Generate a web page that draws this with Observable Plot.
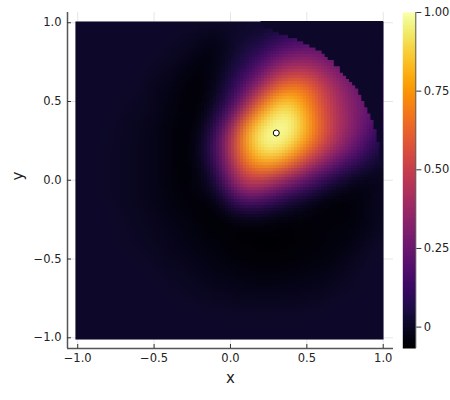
<!DOCTYPE html>
<html><head><meta charset="utf-8">
<script src="https://cdn.jsdelivr.net/npm/d3@7"></script>
<script src="https://cdn.jsdelivr.net/npm/@observablehq/plot@0.6"></script>
<style>
html,body{margin:0;padding:0;background:#fff}
#c{position:relative;width:450px;height:400px;font-family:"DejaVu Sans"}
#c svg{position:absolute;top:0;background:transparent}
</style></head><body><div id="c"></div>
<script>
const xTicks=[-1,-0.5,0,0.5,1];
const yTicks=[-1,-0.5,0,0.5,1];
const barTicks=[0,0.25,0.5,0.75,1];
const colorDomain=[-0.068,1];
const gridX=[-1,-.9,-.8,-.7,-.6,-.5,-.4,-.3,-.2,-.1,0,.1,.2,.3,.4,.5,.6,.7,.8,.9,1];
const gridY=[1,.9,.8,.7,.6,.5,.4,.3,.2,.1,0,-.1,-.2,-.3,-.4,-.5,-.6,-.7,-.8,-.9,-1];
// field values, in hundredths, one row per gridY entry
const field=[
[1,1,1,1,1,1,1,1,1,1,1,1,1,1,1,1,1,1,1,1,1],
[1,1,1,1,1,1,1,0,-1,-2,0,2,3,8,12,15,14,12,8,5,2],
[1,1,1,1,1,1,0,-1,-3,-4,1,5,10,21,26,29,26,20,15,10,5],
[1,1,1,1,1,0,-1,-3,-5,-3,3,10,22,36,44,45,37,29,20,14,8],
[1,1,1,1,.5,-1,-2,-4.5,-6,-2,7,20,36,58,68,64,50,37,27,20,14],
[1,1,1,.5,0,-1,-3,-5,-6,0,12,33,61,84,87,73,55,41,31,22,15],
[1,1,1,0,-.5,-1.5,-3.5,-5.5,-5,5,24,58,85,98,97,79,58,44,32,23,16],
[1,1,.5,0,-1,-2,-4,-6,-3,12,40,79,98,100,98,80,60,43,31,19,8],
[1,1,.5,-.2,-1,-2,-4,-6,-2,14,46,76,95,98,87,68,50,36,24,12,0],
[1,1,.5,-.2,-1,-2,-4,-6,-3,11,38,66,79,76,62,45,32,20,10,3,0],
[1,1,.5,-.2,-1,-2,-4,-5.5,-4,4,30,50,50,40,30,20,10,3,-2,-3,0],
[1,1,.5,-.2,-1,-2,-3.5,-5,-5,-2,12,25,22,15,7,2,-2,-5,-5,-3,.5],
[1,1,1,0,-.5,-1.5,-3,-4,-5.5,-6,-1,2,2,-1,-3,-4.5,-5.5,-5.5,-4.5,-3,.5],
[1,1,1,.5,-.3,-1,-2,-3,-4.5,-6,-6,-6.5,-6.5,-6.5,-6,-5.5,-5,-4.5,-4,-2.5,.5],
[1,1,1,.5,0,-.5,-1.5,-2.5,-3.5,-4.5,-5.5,-6,-6.5,-6.5,-6,-5.5,-5,-4,-3,-.5,1],
[1,1,1,1,.5,0,-1,-1.5,-2.5,-3.5,-4.5,-5,-5.5,-5.5,-5,-4.5,-4,-3,-1,.5,1],
[1,1,1,1,1,.5,0,-.5,-1.5,-2.5,-3,-3.5,-4,-4,-3.5,-3,-2.5,-1.5,0,1,1],
[1,1,1,1,1,1,.5,0,-.5,-1,-1.5,-2,-2,-2,-2,-1.5,-1,0,.5,1,1],
[1,1,1,1,1,1,1,1,.5,.3,0,-.2,-.3,-.3,-.2,0,.5,1,1,1,1],
[1,1,1,1,1,1,1,1,1,1,1,1,1,1,1,1,1,1,1,1,1],
[1,1,1,1,1,1,1,1,1,1,1,1,1,1,1,1,1,1,1,1,1]
];
// upper-right edge of the support: stairs
const edgeX=[.2,.22,.24,.26,.28,.3,.32,.34,.36,.38,.4,.42,.44,.46,.48,.5,.52,.54,.56,.58,.6,.62,.64,.66,.68,.7,.72,.74,.76,.78,.8,.82,.84,.86,.88,.9,.92,.94,.96,.98,1.002];
const edgeY=[.98,.96,.96,.96,.94,.94,.92,.92,.92,.9,.9,.9,.88,.88,.86,.86,.84,.84,.82,.82,.8,.78,.76,.76,.72,.72,.68,.66,.64,.62,.6,.58,.54,.5,.46,.42,.38,.32,.24,.12,.12];
const outsideValue=0.008;
const markerX=[0.3], markerY=[0.3];

const samples=[];
gridY.forEach((y,j)=>gridX.forEach((x,i)=>samples.push({x,y,v:field[j][i]/100})));
const edge=edgeX.map((x,i)=>({x,y:edgeY[i],v:outsideValue}));

const color={type:"linear",scheme:"inferno",domain:colorDomain};
const ink="#333";
const main=Plot.plot({
  width:450,height:400,marginLeft:67,marginRight:57,marginTop:12,marginBottom:52,
  style:{fontFamily:"DejaVu Sans",fontSize:"11.5px",background:"transparent",color:"#222"},
  x:{domain:[-1.0668,1.0674]},y:{domain:[-1.068,1.065]},color,
  marks:[
    Plot.gridX(xTicks,{stroke:"#000",strokeOpacity:.1}),
    Plot.gridY(yTicks,{stroke:"#000",strokeOpacity:.1}),
    Plot.raster(samples,{x:"x",y:"y",fill:"v",x1:-1.015,x2:1.002,y1:-1.011,y2:1.008,pixelSize:3,blur:2,interpolate:"barycentric",imageRendering:"pixelated"}),
    Plot.areaY(edge,{x:"x",y1:"y",y2:1.008,fill:"v",curve:"step-after"}),
    Plot.ruleX([-1.0668],{stroke:"#555",strokeWidth:1.5}),
    Plot.ruleY([-1.068],{stroke:"#555",strokeWidth:1.5}),
    Plot.axisX(xTicks,{tickSize:-4,tickPadding:9.5,label:null,tickFormat:d3.format(".1f"),stroke:ink}),
    Plot.axisY(yTicks,{tickSize:-4,tickPadding:10,label:null,tickFormat:d3.format(".1f"),stroke:ink}),
    Plot.text(["x"],{frameAnchor:"bottom",dy:34,fontSize:15,fill:"#222"}),
    Plot.text(["y"],{frameAnchor:"left",dx:-49,rotate:-90,fontSize:15,fill:"#222"}),
    Plot.dot(markerX.map((x,i)=>({x,y:markerY[i]})),{x:"x",y:"y",r:3,fill:"#fff",stroke:"#000",strokeWidth:1})
  ]
});
const bar=Plot.plot({
  width:50,height:400,marginLeft:2.3,marginRight:34.7,marginTop:12,marginBottom:52,
  style:{fontFamily:"DejaVu Sans",fontSize:"11.5px",background:"transparent",color:"#222"},
  x:{domain:[0,1],axis:null},y:{domain:colorDomain},color,
  marks:[
    Plot.raster({x1:0,x2:1,y1:colorDomain[0],y2:colorDomain[1],fill:(x,y)=>y,width:1,height:336}),
    Plot.ruleX([1],{stroke:"#555"}),
    Plot.axisY(barTicks,{anchor:"right",tickSize:5,tickPadding:3,label:null,tickFormat:d=>d===0?"0":d3.format(".2f")(d),stroke:ink})
  ]
});
bar.style.left="400px";
const c=document.getElementById("c");c.append(main,bar);
</script></body></html>
